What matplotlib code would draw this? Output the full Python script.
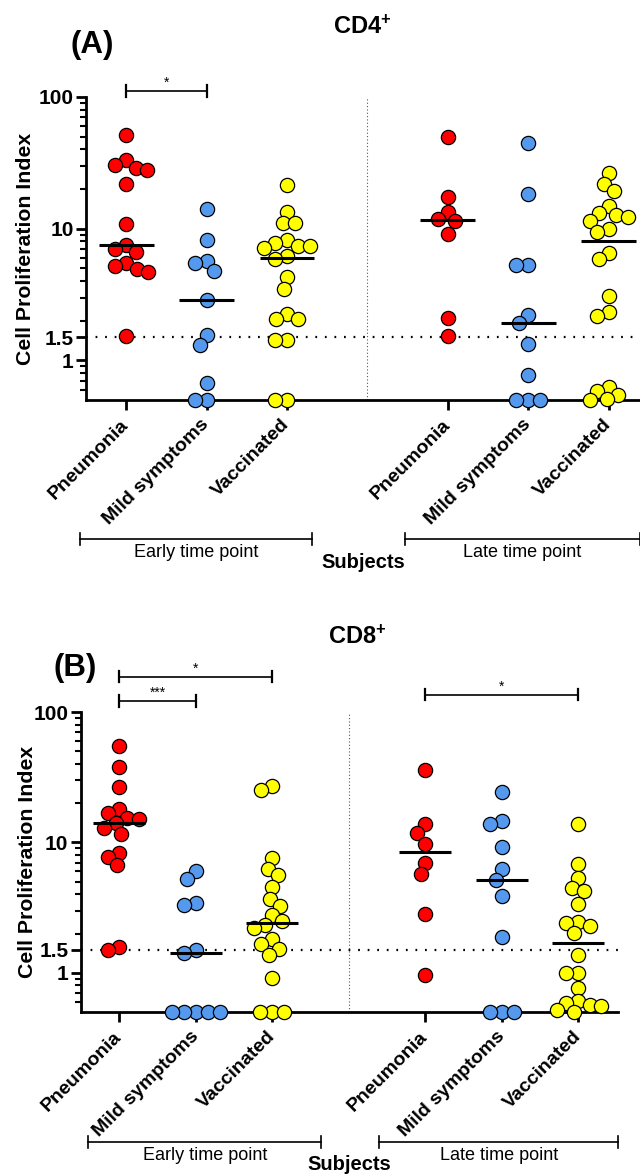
import numpy as np
import matplotlib
matplotlib.use("Agg")
import matplotlib.pyplot as plt
import matplotlib.transforms as mtransforms
from matplotlib.ticker import FixedLocator, FixedFormatter, NullFormatter

plt.rcParams['font.family'] = ['Liberation Sans', 'DejaVu Sans']
plt.rcParams['mathtext.fontset'] = 'custom'
plt.rcParams['mathtext.bf'] = 'Liberation Sans:bold'
plt.rcParams['mathtext.default'] = 'bf'

# Groups (early: 0-2, late: 4-6)
groups = ["Pneumonia", "Mild symptoms", "Vaccinated"]
colors = ["#FF0000", "#5599EE", "#FFFF00"]
positions = [0, 1, 2, 4, 5, 6]

# CD4+ cell proliferation index (values below 0.5 sit on the axis)
cd4_early_pneu = [51.5, 33, 30.4, 29, 27.7, 22, 10.9, 7.55, 7.0, 6.7, 5.47, 5.22, 4.92, 4.72, 1.52]
cd4_early_mild = [14.0, 8.2, 5.7, 5.47, 4.81, 2.87, 1.55, 1.30, 0.67, 0.5, 0.5]
cd4_early_vacc = [21.4, 13.5, 11.05, 11.05, 8.14, 7.78, 7.42, 7.33, 7.1, 6.15, 5.93, 4.28, 3.5,
                  2.24, 2.05, 2.06, 1.42, 1.42, 0.5, 0.5]
cd4_late_pneu = [49.5, 17.5, 13.5, 11.9, 11.4, 9.16, 2.09, 1.54]
cd4_late_mild = [44.5, 18.2, 5.31, 5.31, 2.21, 1.93, 1.32, 0.77, 0.5, 0.5, 0.5]
cd4_late_vacc = [26.4, 21.7, 19.3, 14.8, 13.2, 12.6, 12.3, 11.4, 10.0, 9.5, 6.59, 5.87, 3.08,
                 2.34, 2.18, 0.63, 0.59, 0.55, 0.51, 0.5]

# CD8+ cell proliferation index
cd8_early_pneu = [55, 37.8, 26.5, 18.1, 16.8, 15.3, 15.2, 14.0, 13.0, 11.6, 8.26, 7.78, 6.72, 1.58, 1.49]
cd8_early_mild = [6.08, 5.22, 3.45, 3.31, 1.49, 1.43, 0.5, 0.5, 0.5, 0.5, 0.5]
cd8_early_vacc = [27.2, 25.3, 7.56, 6.22, 5.63, 4.53, 3.68, 3.25, 2.77, 2.51, 2.32, 2.19, 1.80,
                  1.66, 1.52, 1.38, 0.91, 0.5, 0.5, 0.5]
cd8_late_pneu = [35.6, 13.9, 11.9, 9.8, 7.0, 5.73, 2.84, 0.96]
cd8_late_mild = [24.3, 14.6, 13.9, 9.29, 6.22, 5.15, 3.91, 1.87, 0.5, 0.5, 0.5]
cd8_late_vacc = [13.9, 6.84, 5.34, 4.45, 4.26, 3.37, 2.45, 2.42, 2.29, 2.01, 1.36, 1.0, 1.0,
                 0.77, 0.61, 0.59, 0.57, 0.555, 0.52, 0.5]

# significance brackets: (series a, series b, label, height)
cd4_sig = [(0, 1, "*", 111)]
cd8_sig = [(0, 1, "***", 122), (0, 2, "*", 187), (3, 5, "*", 136)]

W, H = 640, 1176
fig = plt.figure(figsize=(W / 100, H / 100), dpi=100)


def px_rect(left, top, right, bottom):
    return [left / W, 1 - bottom / H, (right - left) / W, (bottom - top) / H]


def swarm(ax, xc, values, diam):
    # simple beeswarm in pixel space
    pts = ax.transData.transform(np.column_stack([np.full(len(values), xc), values]))
    ys = pts[:, 1]
    x0 = pts[0, 0]
    order = np.argsort(-np.asarray(values), kind="stable")
    placed = []
    offs = np.zeros(len(values))
    for i in order:
        cands = [0.0]
        for xo, yo in placed:
            dy = ys[i] - yo
            if abs(dy) < diam:
                w = np.sqrt(diam ** 2 - dy ** 2)
                cands += [xo - w, xo + w]
        cands.sort(key=lambda c: (round(abs(c), 3), c))
        for c in cands:
            if all((c - xo) ** 2 + (ys[i] - yo) ** 2 >= diam ** 2 - 1e-6 for xo, yo in placed):
                break
        placed.append((c, ys[i]))
        offs[i] = c
    inv = ax.transData.inverted()
    return inv.transform(np.column_stack([x0 + offs, ys]))[:, 0]


def draw_panel(rect, xmax, series, sig, spans, bracket_y, text_y, subj_y, ylab_x):
    ax = fig.add_axes(rect)
    ax.set_yscale("log")
    ax.set_ylim(0.5, 100)
    ax.set_xlim(-0.5, xmax)

    ax.axhline(1.5, color="black", lw=1.6, ls=(0, (0.8, 3.5)), zorder=1)
    ax.axvline(3, ymax=1.0, color="#555555", lw=0.8, ls=(0, (1, 2)), zorder=1)

    for i, vals in enumerate(series):
        xc = positions[i]
        xs = swarm(ax, xc, vals, 12.0)
        ax.scatter(xs, vals, s=105, c=colors[i % 3], edgecolors="black",
                   linewidths=0.9, zorder=3, clip_on=False)
        ax.hlines(np.median(vals), xc - 0.34, xc + 0.34, colors="black", lw=2.2, zorder=4)

    # axes styling
    for s in ["top", "right"]:
        ax.spines[s].set_visible(False)
    for s in ["left", "bottom"]:
        ax.spines[s].set_linewidth(2)
    ax.yaxis.set_major_locator(FixedLocator([1, 1.5, 10, 100]))
    ax.yaxis.set_major_formatter(FixedFormatter(["1", "1.5", "10", "100"]))
    ax.yaxis.set_minor_locator(FixedLocator([0.6, 0.7, 0.8, 0.9, 2, 3, 4, 5, 6, 7, 8, 9,
                                             20, 30, 40, 50, 60, 70, 80, 90]))
    ax.yaxis.set_minor_formatter(NullFormatter())
    ax.tick_params(axis="y", which="major", length=7, width=2, labelsize=15, pad=2)
    ax.tick_params(axis="y", which="minor", length=4, width=1.5)
    for lbl in ax.get_yticklabels():
        lbl.set_fontweight("bold")
    ax.set_xticks(positions)
    ax.set_xticklabels(groups * 2, rotation=45, ha="right", va="center",
                       rotation_mode="anchor", fontsize=14, fontweight="bold")
    ax.tick_params(axis="x", length=7, width=2, pad=9)

    ax.text(ylab_x, 0.5, "Cell Proliferation Index", transform=ax.transAxes, rotation=90,
            ha="center", va="center", fontsize=15.3, fontweight="bold")

    # significance brackets
    for a, b, label, yv in sig:
        xa, xb = positions[a], positions[b]
        ax.plot([xa, xb], [yv, yv], color="black", lw=1.2, clip_on=False)
        for xe in (xa, xb):
            ax.plot([xe, xe], [yv / 1.11, yv * 1.11], color="black", lw=1.6, clip_on=False)
        ax.text((xa + xb) / 2, yv * 1.02, label, ha="center", va="bottom", fontsize=10)

    # time point brackets under the axis
    trans = mtransforms.blended_transform_factory(ax.transData, ax.transAxes)
    for (x0, x1), name in zip(spans, ["Early time point", "Late time point"]):
        ax.plot([x0, x1], [bracket_y, bracket_y], color="black", lw=1.2,
                transform=trans, clip_on=False)
        for xe in (x0, x1):
            ax.plot([xe, xe], [bracket_y - 0.02, bracket_y + 0.02], color="black", lw=1.2,
                    transform=trans, clip_on=False)
        ax.text((x0 + x1) / 2, text_y, name, transform=trans, ha="center", va="center",
                fontsize=13)
    ax.text(0.5, subj_y, "Subjects", transform=ax.transAxes, ha="center", va="center",
            fontsize=14.5, fontweight="bold")
    return ax


# (A) CD4+
draw_panel(px_rect(86, 97, 640, 400), 6.39,
           [cd4_early_pneu, cd4_early_mild, cd4_early_vacc,
            cd4_late_pneu, cd4_late_mild, cd4_late_vacc],
           cd4_sig, [(-0.57, 2.31), (3.47, 6.39)], -0.459, -0.502, -0.535, -0.11)
fig.text(362 / W, 1 - 27 / H, r"CD4$^{+}$", fontsize=17, fontweight="bold", ha="center", va="center")
fig.text(92 / W, 1 - 45 / H, "(A)", fontsize=22.5, fontweight="bold", ha="center", va="center")

# (B) CD8+
draw_panel(px_rect(81, 712, 618, 1012), 6.52,
           [cd8_early_pneu, cd8_early_mild, cd8_early_vacc,
            cd8_late_pneu, cd8_late_mild, cd8_late_vacc],
           cd8_sig, [(-0.405, 2.64), (3.40, 6.52)], -0.433, -0.477, -0.51, -0.10)
fig.text(357 / W, 1 - 637 / H, r"CD8$^{+}$", fontsize=17, fontweight="bold", ha="center", va="center")
fig.text(75 / W, 1 - 668 / H, "(B)", fontsize=22.5, fontweight="bold", ha="center", va="center")

fig.savefig("out.png", dpi=100)
